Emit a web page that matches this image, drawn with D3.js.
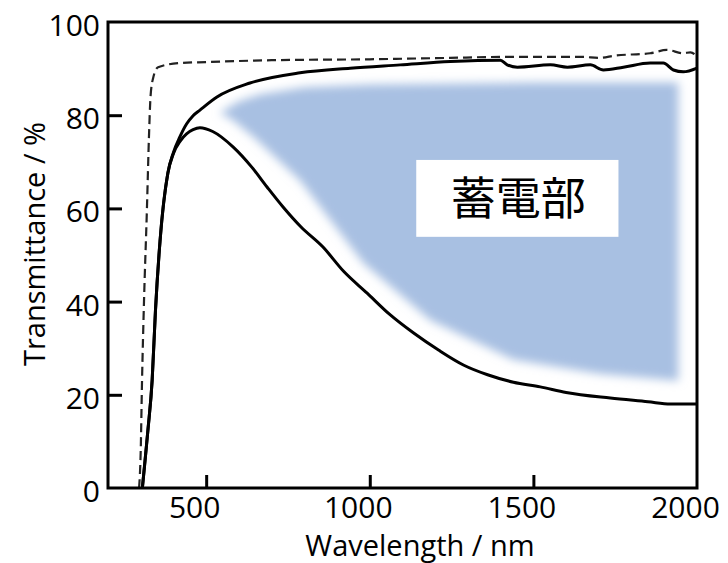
<!DOCTYPE html>
<html>
<head>
<meta charset="utf-8">
<script src="https://cdn.jsdelivr.net/npm/d3@7"></script>
<style>
  body { margin: 0; background: #fff; }
  text { font-family: "Open Sans", "DejaVu Sans", sans-serif; font-weight: 400; fill: #000; }
</style>
</head>
<body>
<svg id="chart" width="728" height="563"></svg>
<script>
// wavelength (nm), transmittance (%)
const dashedCurve = [
  [295, 0], [300, 8], [304, 23], [310, 40], [319, 60], [325, 75], [330, 84],
  [338, 88], [353, 90.3], [420, 91.2], [500, 91.4], [700, 91.8], [1000, 92],
  [1246, 92.3], [1399, 92.5], [1552, 92.5], [1650, 92.5], [1700, 92.3],
  [1750, 92.8], [1857, 93.3], [1908, 94], [1958, 93.3], [1980, 93.5], [2000, 92.6]
];
const upperCurve = [
  [305, 0], [312, 5], [322, 12.4], [335, 23.2], [345, 38], [359, 53], [383, 67.6],
  [400, 72], [420, 75.4], [440, 78.1], [460, 79.9], [481, 81.1], [533, 83.9], [634, 86.9],
  [787, 89.1], [940, 90.1], [1093, 90.8], [1246, 91.5], [1399, 91.8], [1420, 90.8],
  [1451, 90.3], [1552, 90.8], [1604, 90.3], [1674, 90.8], [1714, 89.7], [1775, 90.3],
  [1857, 91.2], [1897, 91.2], [1928, 89.7], [1958, 89.3], [2000, 90.1]
];
const lowerCurve = [
  [305, 0], [312, 5], [322, 12.4], [335, 23.2], [345, 38], [359, 53], [383, 67.6],
  [400, 71.8], [420, 74.4], [440, 76], [460, 76.9], [481, 77.3], [520, 76.5], [582, 73.2],
  [640, 68.8], [686, 64.6], [735, 60.3], [790, 56], [857, 51.7], [920, 46.5], [992, 41.8],
  [1060, 37.3], [1133, 33.3], [1210, 29.6], [1286, 26.4], [1360, 24.3], [1439, 22.7],
  [1521, 21.7], [1600, 20.5], [1735, 19.3], [1850, 18.5], [1919, 18], [2000, 18]
];
// shaded "storage" region
const storageRegion = [
  [542, 80.5], [600, 83], [665, 84.5], [800, 86], [1000, 86.6], [1500, 87], [1943, 87],
  [1943, 23], [1700, 24.5], [1439, 27.5], [1185, 36], [980, 48.3], [787, 66],
  [650, 75], [580, 79]
];
const xTicks = [500, 1000, 1500, 2000];
const yTicks = [0, 20, 40, 60, 80, 100];
const labelText = "蓄電部";
const labelBox = { x0: 1142, x1: 1760, y0: 70.4, y1: 53.9 };

const svg = d3.select("#chart");
const mLeft = 108, mRight = 697, mTop = 22, mBottom = 488;

const x = d3.scaleLinear().domain([200, 2000]).range([mLeft, mRight]);
const y = d3.scaleLinear().domain([0, 100]).range([mBottom, mTop]);

const defs = svg.append("defs");
defs.append("filter").attr("id", "soft")
  .attr("x", "-10%").attr("y", "-10%").attr("width", "120%").attr("height", "120%")
  .append("feGaussianBlur").attr("stdDeviation", 5);

// shaded region
svg.append("path")
  .datum(storageRegion)
  .attr("d", d3.line().x(d => x(d[0])).y(d => y(d[1])).curve(d3.curveLinearClosed))
  .attr("fill", "#a8c0e2")
  .attr("filter", "url(#soft)");

// label box
svg.append("rect")
  .attr("x", x(labelBox.x0)).attr("y", y(labelBox.y0))
  .attr("width", x(labelBox.x1) - x(labelBox.x0))
  .attr("height", y(labelBox.y1) - y(labelBox.y0))
  .attr("fill", "#fff");
svg.append("text")
  .attr("x", (x(labelBox.x0) + x(labelBox.x1)) / 2 + 1)
  .attr("y", (y(labelBox.y0) + y(labelBox.y1)) / 2 + 17)
  .attr("text-anchor", "middle")
  .style("font-family", "'Noto Sans CJK JP', sans-serif")
  .style("font-size", "45px")
  .text(labelText);

const line = d3.line().x(d => x(d[0])).y(d => y(d[1])).curve(d3.curveMonotoneX);

svg.append("path").datum(dashedCurve).attr("d", line)
  .attr("fill", "none").attr("stroke", "#222").attr("stroke-width", 2.2)
  .attr("stroke-dasharray", "9,5");
svg.append("path").datum(upperCurve).attr("d", line)
  .attr("fill", "none").attr("stroke", "#000").attr("stroke-width", 3);
svg.append("path").datum(lowerCurve).attr("d", line)
  .attr("fill", "none").attr("stroke", "#000").attr("stroke-width", 3);

// frame
svg.append("rect")
  .attr("x", mLeft).attr("y", mTop)
  .attr("width", mRight - mLeft).attr("height", mBottom - mTop)
  .attr("fill", "none").attr("stroke", "#000").attr("stroke-width", 3);

// axes with inward ticks
const xAxis = svg.append("g").attr("transform", `translate(0,${mBottom})`)
  .call(d3.axisBottom(x).tickValues(xTicks).tickFormat(d3.format("d"))
    .tickSizeInner(-13).tickSizeOuter(0).tickPadding(0));
xAxis.select(".domain").remove();
xAxis.selectAll("line").attr("stroke", "#000").attr("stroke-width", 3)
  .filter(d => d === 2000).remove();
xAxis.selectAll("text")
  .attr("y", 30).attr("dy", 0).attr("dx", -12)
  .style("font-size", "30px").style("font-family", "'Open Sans', sans-serif");

const yAxis = svg.append("g").attr("transform", `translate(${mLeft},0)`)
  .call(d3.axisLeft(y).tickValues(yTicks).tickFormat(d3.format("d"))
    .tickSizeInner(-14).tickSizeOuter(0).tickPadding(0));
yAxis.select(".domain").remove();
yAxis.selectAll("line").attr("stroke", "#000").attr("stroke-width", 3)
  .filter(d => d === 0 || d === 100).remove();
yAxis.selectAll("text")
  .attr("x", -8).attr("dy", "0.45em")
  .style("font-size", "30px").style("font-family", "'Open Sans', sans-serif");

// axis titles
svg.append("text")
  .attr("x", 420).attr("y", 556)
  .attr("text-anchor", "middle")
  .style("font-size", "29px")
  .text("Wavelength / nm");
svg.append("text")
  .attr("transform", "translate(45,244) rotate(-90)")
  .attr("text-anchor", "middle")
  .style("font-size", "29px")
  .text("Transmittance / %");
</script>
</body>
</html>
